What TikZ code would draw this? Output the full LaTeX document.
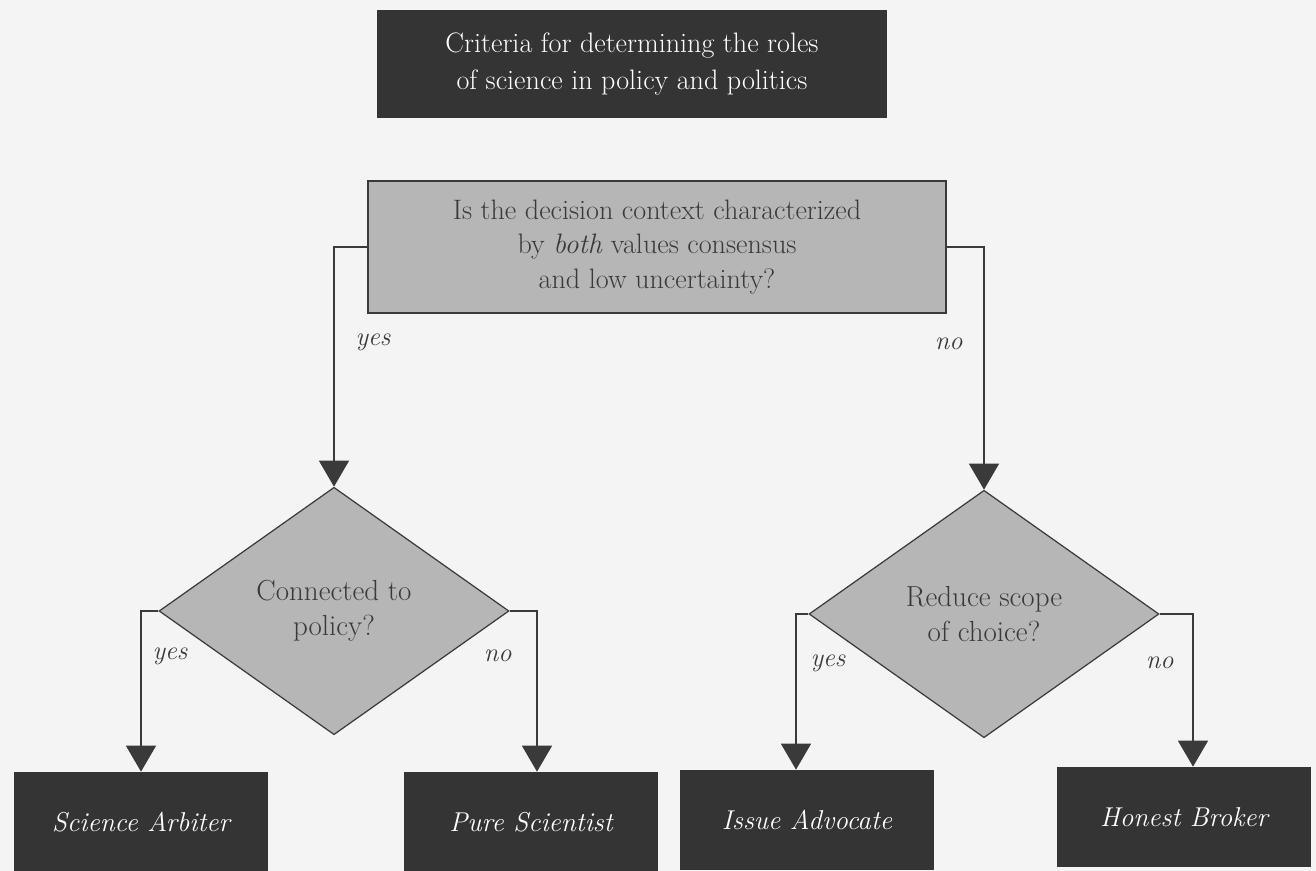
\documentclass[tikz,border=0pt]{standalone}
\usepackage{tikz}
\usetikzlibrary{shapes.geometric,arrows.meta}

\definecolor{boxdark}{HTML}{343434}
\definecolor{boxgray}{HTML}{B6B6B6}
\definecolor{inkgray}{HTML}{3A3A3A}
\definecolor{paper}{HTML}{F4F4F4}

\begin{document}
\begin{tikzpicture}[x=0.02cm, y=-0.02cm,
	every node/.style={font=\fontsize{15}{20}\selectfont, align=center},
	dark/.style={rectangle, fill=boxdark, text=white, inner sep=0pt},
	quest/.style={rectangle, draw=inkgray, fill=boxgray, text=inkgray, line width=0.8pt},
	decide/.style={diamond, draw=inkgray, fill=boxgray, text=inkgray, inner sep=0pt, minimum width=7cm, minimum height=4.95cm, line width=0.7pt, font=\fontsize{16.5}{20}\selectfont},
	role/.style={dark, minimum width=5.1cm, minimum height=2cm, font=\fontsize{15.5}{20}\selectfont\itshape},
	flow/.style={draw=inkgray, line width=0.8pt, -{Triangle[width=0.6cm,length=0.52cm]}},
	lbl/.style={font=\fontsize{15}{20}\selectfont\itshape, text=inkgray}]
	\useasboundingbox (0,0) rectangle (1316,871);
	\fill[paper] (0,0) rectangle (1316,871);

	\node[dark, minimum width=10.22cm, minimum height=2.16cm, font=\fontsize{16}{21.5}\selectfont] (crit) at (632,64) {Criteria for determining the roles\\of science in policy and politics};
	\node[quest, minimum width=11.56cm, minimum height=2.64cm, font=\fontsize{16}{19.5}\selectfont] (ctx) at (657,247) {Is the decision context characterized\\by \emph{both} values consensus\\and low uncertainty?};

	\node[decide] (conn) at (334,611) {Connected to\\policy?};
	\node[decide] (scope) at (984,614) {Reduce scope\\of choice?};

	\node[role] (arb) at (141,822) {Science Arbiter};
	\node[role] (pure) at (531,822) {Pure Scientist};
	\node[role] (adv) at (807,820) {Issue Advocate};
	\node[role] (brk) at (1184,817) {Honest Broker};

	\draw[flow] (ctx.west) -| node[lbl, pos=.7, right=0.3cm] {yes} (conn.north);
	\draw[flow] (ctx.east) -| node[lbl, pos=.7, left=0.3cm] {no} (scope.north);

	\draw[flow] (conn.west) -| node[lbl, pos=.64, right=0.1cm] {yes} (arb.north);
	\draw[flow] (conn.east) -| node[lbl, pos=.64, left=0.38cm] {no} ([xshift=0.12cm]pure.north);
	\draw[flow] (scope.west) -| node[lbl, pos=.66, right=0.16cm] {yes} ([xshift=-0.22cm]adv.north);
	\draw[flow] (scope.east) -| node[lbl, pos=.66, left=0.26cm] {no} ([xshift=0.18cm]brk.north);
\end{tikzpicture}
\end{document}
